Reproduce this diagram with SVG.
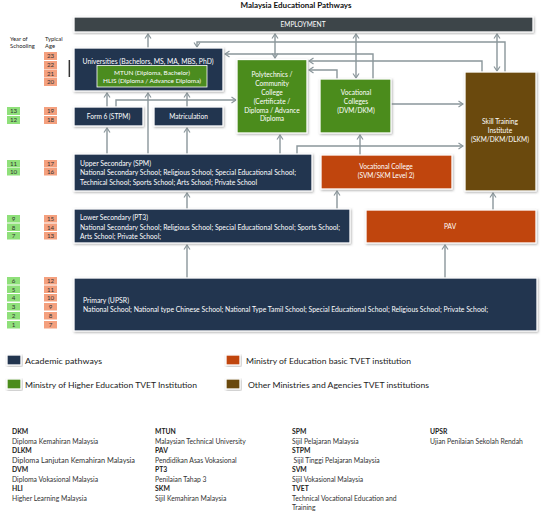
<svg xmlns="http://www.w3.org/2000/svg" width="543" height="513" viewBox="0 0 543 513">
<style>
text{font-family:Lato,"Open Sans","Liberation Sans",sans-serif;}
.t{font-size:8px;font-weight:bold;fill:#111;}
.w{fill:#fff;font-size:6.6px;}
.wc{fill:#fff;font-size:6.6px;text-anchor:middle;}
.hd{font-size:5.8px;fill:#222;}
.n{font-size:6.2px;fill:#333;text-anchor:middle;}
.age{fill:#f4a07e;}
.yr{fill:#8fe07a;}
.bx{stroke:#fff;stroke-width:1.3;filter:url(#sh);}
.navy{fill:#243650;}
.green{fill:#4b8c1f;}
.orange{fill:#c0440f;}
.brown{fill:#6b4a0d;}
.emp{fill:#3e4448;}
.lg{font-size:8.2px;fill:#222;}
.gb{font-size:6.8px;font-weight:bold;fill:#222;}
.g{font-size:6.8px;fill:#333;}
.c{fill:none;stroke:#8a969b;stroke-width:1.4;}
</style>
<defs>
<filter id="sh" x="-10%" y="-10%" width="120%" height="130%">
<feDropShadow dx="0.8" dy="1" stdDeviation="0.9" flood-color="#777" flood-opacity="0.6"/>
</filter>
<marker id="ar" viewBox="-6 -4 7 8" refX="0" refY="0" markerWidth="7" markerHeight="8" markerUnits="userSpaceOnUse" orient="auto-start-reverse">
<path d="M-4.5,-3 L0,0 L-4.5,3" fill="none" stroke="#8a969b" stroke-width="1.2"/>
</marker>
</defs>
<rect width="543" height="513" fill="#fff"/>
<text class="t" x="296" y="8" text-anchor="middle">Malaysia Educational Pathways</text>

<g id="headers">
<text class="hd" x="10" y="41">Year of</text>
<text class="hd" x="10" y="48">Schooling</text>
<text class="hd" x="45" y="41">Typical</text>
<text class="hd" x="45" y="48">Age</text>
</g>

<g id="ages">
<rect class="age" x="44" y="52" width="13" height="8"/><text class="n" x="50.5" y="58.3">23</text>
<rect class="age" x="44" y="61" width="13" height="8"/><text class="n" x="50.5" y="67.3">22</text>
<rect class="age" x="44" y="69.5" width="13" height="8"/><text class="n" x="50.5" y="75.8">21</text>
<rect class="age" x="44" y="78" width="13" height="8"/><text class="n" x="50.5" y="84.3">20</text>
<rect class="age" x="44" y="107" width="13" height="8"/><text class="n" x="50.5" y="113.3">19</text>
<rect class="age" x="44" y="116" width="13" height="8"/><text class="n" x="50.5" y="122.3">18</text>
<rect class="age" x="44" y="160" width="13" height="7.5"/><text class="n" x="50.5" y="166">17</text>
<rect class="age" x="44" y="168" width="13" height="7.5"/><text class="n" x="50.5" y="174">16</text>
<rect class="age" x="44" y="215" width="13" height="7.5"/><text class="n" x="50.5" y="221">15</text>
<rect class="age" x="44" y="223.5" width="13" height="7.5"/><text class="n" x="50.5" y="229.5">14</text>
<rect class="age" x="44" y="232" width="13" height="7.5"/><text class="n" x="50.5" y="238">13</text>
<rect class="age" x="44" y="277" width="13" height="7.5"/><text class="n" x="50.5" y="283">12</text>
<rect class="age" x="44" y="285.5" width="13" height="7.5"/><text class="n" x="50.5" y="291.5">11</text>
<rect class="age" x="44" y="294" width="13" height="7.5"/><text class="n" x="50.5" y="300">10</text>
<rect class="age" x="44" y="303" width="13" height="7.5"/><text class="n" x="50.5" y="309">9</text>
<rect class="age" x="44" y="312" width="13" height="7.5"/><text class="n" x="50.5" y="318">8</text>
<rect class="age" x="44" y="321" width="13" height="7.5"/><text class="n" x="50.5" y="327">7</text>
</g>

<g id="years">
<rect class="yr" x="7" y="107" width="13" height="8"/><text class="n" x="13.5" y="113.3">13</text>
<rect class="yr" x="7" y="116" width="13" height="8"/><text class="n" x="13.5" y="122.3">12</text>
<rect class="yr" x="7" y="160" width="13" height="7.5"/><text class="n" x="13.5" y="166">11</text>
<rect class="yr" x="7" y="168" width="13" height="7.5"/><text class="n" x="13.5" y="174">10</text>
<rect class="yr" x="7" y="215" width="13" height="7.5"/><text class="n" x="13.5" y="221">9</text>
<rect class="yr" x="7" y="223.5" width="13" height="7.5"/><text class="n" x="13.5" y="229.5">8</text>
<rect class="yr" x="7" y="232" width="13" height="7.5"/><text class="n" x="13.5" y="238">7</text>
<rect class="yr" x="7" y="277" width="13" height="7.5"/><text class="n" x="13.5" y="283">6</text>
<rect class="yr" x="7" y="285.5" width="13" height="7.5"/><text class="n" x="13.5" y="291.5">5</text>
<rect class="yr" x="7" y="294" width="13" height="7.5"/><text class="n" x="13.5" y="300">4</text>
<rect class="yr" x="7" y="303" width="13" height="7.5"/><text class="n" x="13.5" y="309">3</text>
<rect class="yr" x="7" y="312" width="13" height="7.5"/><text class="n" x="13.5" y="318">2</text>
<rect class="yr" x="7" y="321" width="13" height="7.5"/><text class="n" x="13.5" y="327">1</text>
</g>
<rect x="68.6" y="60" width="1.5" height="17" fill="#333"/>

<g id="connectors">
<path class="c" d="M148,154 V93" marker-end="url(#ar)"/>
<path class="c" d="M148,48 V34" marker-end="url(#ar)"/>
<path class="c" d="M275,58 V34" marker-start="url(#ar)" marker-end="url(#ar)"/>
<path class="c" d="M356,78 V34" marker-start="url(#ar)" marker-end="url(#ar)"/>
<path class="c" d="M497,71 V34" marker-start="url(#ar)" marker-end="url(#ar)"/>
<path class="c" d="M505,72 V42 H197 V47" marker-end="url(#ar)"/>
<path class="c" d="M373,79 V54 H225" marker-end="url(#ar)"/>
<path class="c" d="M482,72 V61 H309" marker-end="url(#ar)"/>
<path class="c" d="M337,79 V70 H309" marker-end="url(#ar)"/>
<path class="c" d="M391,104 H463" marker-end="url(#ar)"/>
<path class="c" d="M116,107 V100 H236" marker-end="url(#ar)"/>
<path class="c" d="M107,107 V93" marker-end="url(#ar)"/>
<path class="c" d="M187,107 V93" marker-end="url(#ar)"/>
<path class="c" d="M107,154 V128" marker-end="url(#ar)"/>
<path class="c" d="M187,154 V128" marker-end="url(#ar)"/>
<path class="c" d="M280,154 V135" marker-end="url(#ar)"/>
<path class="c" d="M297,154 V146 H463" marker-end="url(#ar)"/>
<path class="c" d="M360,155 V135" marker-end="url(#ar)"/>
<path class="c" d="M187,209 V193" marker-end="url(#ar)"/>
<path class="c" d="M337,209 V191" marker-end="url(#ar)"/>
<path class="c" d="M187,278 V245" marker-end="url(#ar)"/>
<path class="c" d="M445,278 V245" marker-end="url(#ar)"/>
<path class="c" d="M493,210 V193" marker-end="url(#ar)"/>
</g>

<g id="employment">
<rect class="bx emp" x="74" y="17" width="459" height="15"/>
<text class="wc" x="303" y="27.3">EMPLOYMENT</text>
</g>

<g id="universities">
<rect class="bx navy" x="74" y="48" width="149" height="43"/>
<text class="wc" x="148" y="63.5" textLength="131" lengthAdjust="spacingAndGlyphs">Universities (Bachelors, MS, MA, MBS, PhD)</text>
</g>
<g id="mtun">
<rect x="97" y="65.5" width="110" height="21.5" class="green" stroke="#fff" stroke-width="0.8"/>
<text class="wc" x="152" y="74.5" style="font-size:6.2px" textLength="76" lengthAdjust="spacingAndGlyphs">MTUN (Diploma, Bachelor)</text>
<text class="wc" x="152" y="82.8" style="font-size:6.2px" textLength="98" lengthAdjust="spacingAndGlyphs">HLIS (Diploma / Advance Diploma)</text>
</g>

<g id="form6">
<rect class="bx navy" x="74" y="107" width="69" height="19"/>
<text class="wc" x="108.5" y="119">Form 6 (STPM)</text>
</g>
<g id="matriculation">
<rect class="bx navy" x="154" y="107" width="69" height="19"/>
<text class="wc" x="188.5" y="119">Matriculation</text>
</g>

<g id="polytechnics">
<rect class="bx green" x="237" y="59.5" width="70" height="73.5"/>
<text class="wc" x="272" y="77">Polytechnics /</text>
<text class="wc" x="272" y="86">Community</text>
<text class="wc" x="272" y="94.5">College</text>
<text class="wc" x="272" y="103.5">(Certificate /</text>
<text class="wc" x="272" y="112.5">Diploma / Advance</text>
<text class="wc" x="272" y="121">Diploma</text>
</g>

<g id="vocational-colleges">
<rect class="bx green" x="320" y="79" width="71" height="54"/>
<text class="wc" x="356" y="95">Vocational</text>
<text class="wc" x="356" y="104">Colleges</text>
<text class="wc" x="356" y="112.5">(DVM/DKM)</text>
</g>

<g id="skill-training">
<rect class="bx brown" x="465" y="72" width="71" height="119"/>
<text class="wc" x="500" y="124">Skill Training</text>
<text class="wc" x="500" y="133">Institute</text>
<text class="wc" x="500" y="141.5">(SKM/DKM/DLKM)</text>
</g>

<g id="upper-secondary">
<rect class="bx navy" x="74" y="154" width="238" height="37"/>
<text class="w" x="80" y="165.5" textLength="71" lengthAdjust="spacingAndGlyphs">Upper Secondary (SPM)</text>
<text class="w" x="80" y="175" textLength="216" lengthAdjust="spacingAndGlyphs">National Secondary School; Religious School; Special Educational School;</text>
<text class="w" x="80" y="184.5" textLength="177" lengthAdjust="spacingAndGlyphs">Technical School; Sports School; Arts School; Private School</text>
</g>

<g id="vocational-college">
<rect class="bx orange" x="321" y="155" width="131" height="34"/>
<text class="wc" x="386" y="169">Vocational College</text>
<text class="wc" x="386" y="177.5">(SVM/SKM Level 2)</text>
</g>

<g id="lower-secondary">
<rect class="bx navy" x="74" y="209" width="276" height="34"/>
<text class="w" x="80" y="220" textLength="68" lengthAdjust="spacingAndGlyphs">Lower Secondary (PT3)</text>
<text class="w" x="80" y="229.5" textLength="260" lengthAdjust="spacingAndGlyphs">National Secondary School; Religious School; Special Educational School; Sports School;</text>
<text class="w" x="80" y="238.5" textLength="81" lengthAdjust="spacingAndGlyphs">Arts School; Private School;</text>
</g>

<g id="pav">
<rect class="bx orange" x="366" y="210" width="170" height="33"/>
<text class="wc" x="450" y="229">PAV</text>
</g>

<g id="primary">
<rect class="bx navy" x="74" y="278" width="463" height="53"/>
<text class="w" x="83" y="303" textLength="46" lengthAdjust="spacingAndGlyphs">Primary (UPSR)</text>
<text class="w" x="83" y="311.5" textLength="405" lengthAdjust="spacingAndGlyphs">National School; National type Chinese School; National Type Tamil School; Special Educational School; Religious School; Private School;</text>
</g>

<g id="legend">
<rect class="bx navy" x="7" y="355" width="14" height="10"/>
<text class="lg" x="25" y="364" textLength="77" lengthAdjust="spacingAndGlyphs">Academic pathways</text>
<rect class="bx green" x="7" y="379" width="14" height="10"/>
<text class="lg" x="25" y="388" textLength="172" lengthAdjust="spacingAndGlyphs">Ministry of Higher Education TVET Institution</text>
<rect class="bx orange" x="226" y="355" width="14" height="10"/>
<text class="lg" x="246" y="364" textLength="165" lengthAdjust="spacingAndGlyphs">Ministry of Education basic TVET institution</text>
<rect class="bx brown" x="226" y="379" width="14" height="10"/>
<text class="lg" x="248" y="388" textLength="181" lengthAdjust="spacingAndGlyphs">Other Ministries and Agencies TVET institutions</text>
</g>

<g id="glossary">
<text class="gb" x="12" y="434">DKM</text>
<text class="g" x="12" y="444">Diploma Kemahiran Malaysia</text>
<text class="gb" x="12" y="453">DLKM</text>
<text class="g" x="12" y="463" textLength="123" lengthAdjust="spacingAndGlyphs">Diploma Lanjutan Kemahiran Malaysia</text>
<text class="gb" x="12" y="472">DVM</text>
<text class="g" x="12" y="482">Diploma Vokasional Malaysia</text>
<text class="gb" x="12" y="491">HLI</text>
<text class="g" x="12" y="501">Higher Learning Malaysia</text>

<text class="gb" x="155" y="434">MTUN</text>
<text class="g" x="155" y="444">Malaysian Technical University</text>
<text class="gb" x="155" y="453">PAV</text>
<text class="g" x="155" y="463">Pendidikan Asas Vokasional</text>
<text class="gb" x="155" y="472">PT3</text>
<text class="g" x="155" y="482">Penilaian Tahap 3</text>
<text class="gb" x="155" y="491">SKM</text>
<text class="g" x="155" y="501">Sijil Kemahiran Malaysia</text>

<text class="gb" x="292" y="434">SPM</text>
<text class="g" x="292" y="444">Sijil Pelajaran Malaysia</text>
<text class="gb" x="292" y="453">STPM</text>
<text class="g" x="293.5" y="463">Sijil Tinggi Pelajaran Malaysia</text>
<text class="gb" x="292" y="472">SVM</text>
<text class="g" x="292" y="482">Sijil Vokasional Malaysia</text>
<text class="gb" x="292" y="491">TVET</text>
<text class="g" x="292" y="501">Technical Vocational Education and</text>
<text class="g" x="292" y="510">Training</text>

<text class="gb" x="430" y="434">UPSR</text>
<text class="g" x="430" y="444">Ujian Penilaian Sekolah Rendah</text>
</g>
</svg>
